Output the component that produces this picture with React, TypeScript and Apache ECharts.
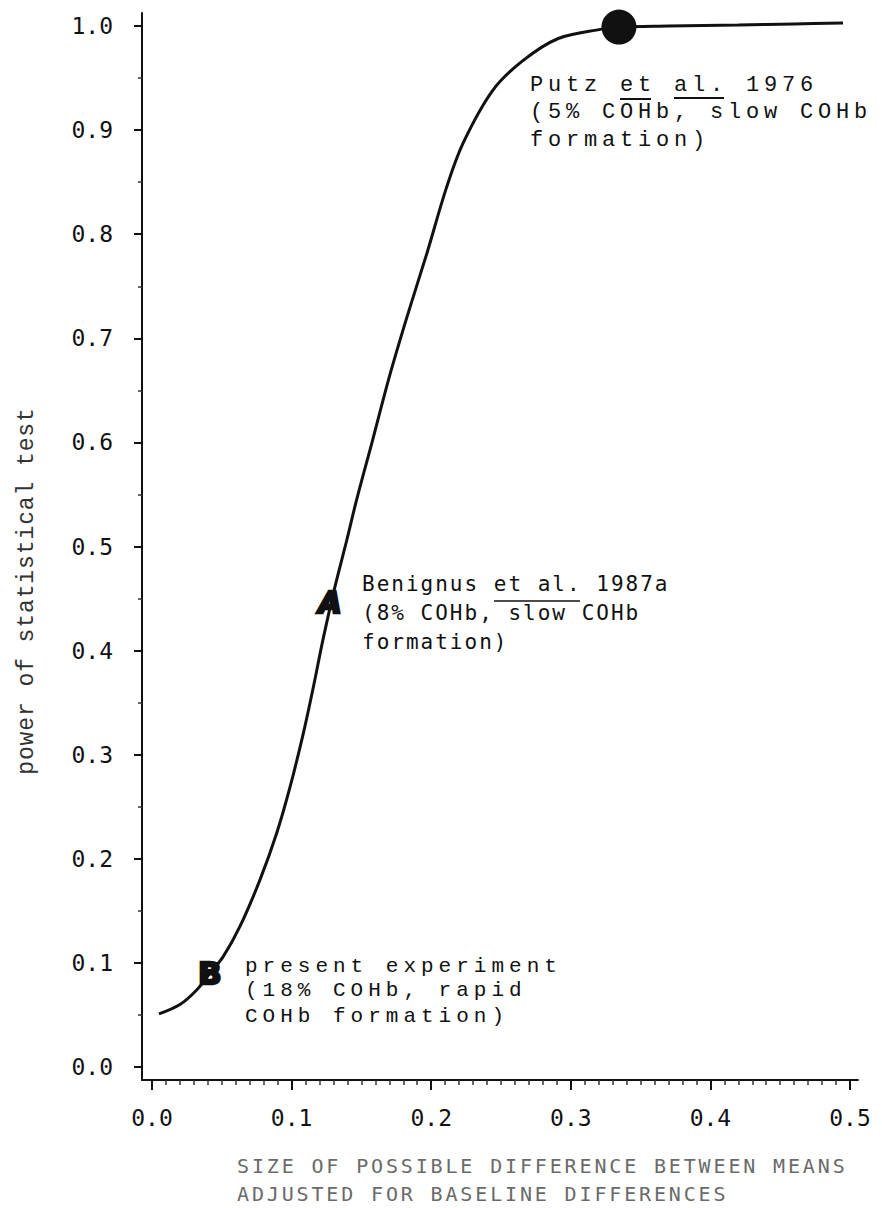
import React, { useEffect, useRef } from "react";
import * as echarts from "echarts";

// ---- data ----
const curveX = [0.005, 0.02, 0.032, 0.0415, 0.051, 0.063, 0.0774, 0.0893, 0.0989, 0.1084, 0.1156, 0.1227, 0.131, 0.1395, 0.1466, 0.158, 0.17, 0.183, 0.197, 0.211, 0.223, 0.244, 0.265, 0.291, 0.322, 0.3345, 0.37, 0.42, 0.46, 0.495];
const curveY = [0.051, 0.06, 0.074, 0.09, 0.106, 0.135, 0.18, 0.2245, 0.269, 0.3205, 0.365, 0.412, 0.461, 0.506, 0.545, 0.602, 0.663, 0.722, 0.782, 0.845, 0.888, 0.938, 0.966, 0.988, 0.997, 0.999, 1.0, 1.001, 1.002, 1.003];

const studyMarks = ["B", "A", "C"];
const studyX = [0.0415, 0.1275, 0.3345];
const studyY = [0.09, 0.446, 0.999];

const xTicks = [0, 0.1, 0.2, 0.3, 0.4, 0.5];
const yTicks = [0, 0.1, 0.2, 0.3, 0.4, 0.5, 0.6, 0.7, 0.8, 0.9, 1.0];
const yMinorTicks = [0.05, 0.15, 0.25, 0.35, 0.45, 0.55, 0.65, 0.75, 0.85, 0.95];
const xMinorTicks: number[] = [];
for (let i = 1; i < 50; i++) if (i % 10 !== 0) xMinorTicks.push(i / 100);

const putzLines = ["Putz et al. 1976", "(5% COHb, slow COHb", "formation)"];
const benignusLines = ["Benignus et al. 1987a", "(8% COHb, slow COHb", "formation)"];
const presentLines = ["present experiment", "(18% COHb, rapid", "COHb formation)"];
const xTitleLines = ["SIZE OF POSSIBLE DIFFERENCE BETWEEN MEANS", "ADJUSTED FOR BASELINE DIFFERENCES"];
const yTitle = "power of statistical test";

// axis extents chosen so the axis lines sit where the reference draws them
const X_MIN = -0.00716;
const X_MAX = 0.50573;
const Y_MIN = -0.01249;
const Y_MAX = 1.01249;

const INK = "#111";

export default function App() {
  const ref = useRef<HTMLDivElement>(null);

  useEffect(() => {
    if (!ref.current) return;
    const el = ref.current;
    const chart = echarts.init(el, undefined, { renderer: "svg" });

    const lineTexts = (lines: string[], x: number, ys: number[], family: string, size: number, color = INK) =>
      lines.map((t, i) => ({
        type: "text",
        x,
        y: ys[i],
        style: { text: t, fill: color, font: `${size}px "${family}"`, textAlign: "left", textVerticalAlign: "middle" },
      }));

    const fmt = (v: number) => v.toFixed(1);

    const markLabel = (i: number) => {
      if (i === 0)
        return { show: true, position: "inside", formatter: studyMarks[0], fontFamily: "DejaVu Sans", fontWeight: 900, fontSize: 31, color: INK, textBorderColor: INK, textBorderWidth: 2.5, opacity: 1 };
      if (i === 1)
        return { show: true, position: "inside", formatter: studyMarks[1], fontFamily: "DejaVu Sans", fontWeight: 900, fontStyle: "italic", fontSize: 30, color: INK, textBorderColor: INK, textBorderWidth: 2.5, opacity: 1 };
      return { show: false };
    };

    const option: any = {
      animation: false,
      backgroundColor: "#fff",
      grid: { left: 142, right: 24, top: 13, bottom: 128, containLabel: false },
      xAxis: [
        {
          type: "value", position: "bottom", min: X_MIN, max: X_MAX,
          axisLine: { show: true, onZero: false, lineStyle: { color: INK, width: 2 } },
          axisTick: { show: true, customValues: xTicks, length: 10, lineStyle: { color: INK, width: 2 } },
          axisLabel: { customValues: xTicks, formatter: fmt, margin: 26, fontFamily: "DejaVu Sans Mono", fontSize: 23, color: INK },
          splitLine: { show: false },
        },
        {
          type: "value", position: "bottom", min: X_MIN, max: X_MAX,
          axisLine: { show: false, onZero: false },
          axisTick: { show: true, customValues: xMinorTicks, length: 5, lineStyle: { color: "#333", width: 1.5 } },
          axisLabel: { show: false },
          splitLine: { show: false },
        },
      ],
      yAxis: [
        {
          type: "value", position: "left", min: Y_MIN, max: Y_MAX,
          axisLine: { show: true, onZero: false, lineStyle: { color: INK, width: 2 } },
          axisTick: { show: true, customValues: yTicks, length: 8, lineStyle: { color: INK, width: 2 } },
          axisLabel: { customValues: yTicks, formatter: fmt, margin: 29, fontFamily: "DejaVu Sans Mono", fontSize: 23, color: INK },
          splitLine: { show: false },
        },
        {
          type: "value", position: "left", min: Y_MIN, max: Y_MAX,
          axisLine: { show: false, onZero: false },
          axisTick: { show: true, customValues: yMinorTicks, length: 4, lineStyle: { color: "#333", width: 1.5 } },
          axisLabel: { show: false },
          splitLine: { show: false },
        },
      ],
      series: [
        {
          type: "line",
          xAxisIndex: 0, yAxisIndex: 0,
          data: curveX.map((x, i) => [x, curveY[i]]),
          showSymbol: false,
          smooth: 0.35,
          lineStyle: { color: INK, width: 3 },
          silent: true,
        },
        {
          type: "scatter",
          xAxisIndex: 0, yAxisIndex: 0,
          data: studyX.map((x, i) => ({
            value: [x, studyY[i]],
            symbol: "circle",
            symbolSize: i === 2 ? 35 : 0,
            itemStyle: { color: INK, opacity: 1 },
            label: markLabel(i),
          })),
          itemStyle: { opacity: 1 },
          silent: true,
          z: 5,
        },
      ],
      graphic: [
        ...lineTexts(putzLines, 530, [85, 112, 140], "Liberation Mono", 22),
        ...lineTexts(benignusLines, 362, [584, 613, 642], "DejaVu Sans Mono", 21),
        ...lineTexts(presentLines, 245, [966, 990, 1016], "Liberation Mono", 21),
        ...lineTexts(xTitleLines, 237, [1166, 1194], "DejaVu Sans Mono", 20, "#6a6a6a"),
        {
          type: "text", x: 27, y: 591, rotation: Math.PI / 2,
          style: { text: yTitle, fill: "#333", font: `23px "Liberation Mono"`, textAlign: "center", textVerticalAlign: "middle" },
        },
        // underlines under "et al." in the citations
        { type: "line", shape: { x1: 620, y1: 99, x2: 651, y2: 99 }, style: { stroke: INK, lineWidth: 2 } },
        { type: "line", shape: { x1: 674, y1: 98, x2: 724, y2: 98 }, style: { stroke: INK, lineWidth: 2 } },
        { type: "line", shape: { x1: 494, y1: 601, x2: 580, y2: 601 }, style: { stroke: INK, lineWidth: 1.5 } },
      ],
    };

    chart.setOption(option);

    // typewriter-like letter spacing on the annotation texts
    const applySpacing = () => {
      el.querySelectorAll("text").forEach((t) => {
        const cs = getComputedStyle(t as Element);
        const size = Math.round(parseFloat(cs.fontSize));
        const fam = cs.fontFamily || "";
        let sp = 0;
        if (fam.includes("Liberation Mono")) {
          if (size === 22) sp = 4.8;
          else if (size === 21) sp = 5.0;
          else if (size === 23) sp = 0.9;
        } else if (fam.includes("DejaVu Sans Mono")) {
          if (size === 21) sp = 2.0;
          else if (size === 20) sp = 2.85;
        }
        if (sp) (t as SVGTextElement).style.letterSpacing = `${sp}px`;
      });
    };
    applySpacing();
    chart.on("finished", applySpacing);
    const timer = setTimeout(applySpacing, 50);

    return () => {
      clearTimeout(timer);
      chart.dispose();
    };
  }, []);

  return (
    <div
      ref={ref}
      style={{ position: "absolute", left: 0, top: 0, width: 882, height: 1208, background: "#fff" }}
    />
  );
}
